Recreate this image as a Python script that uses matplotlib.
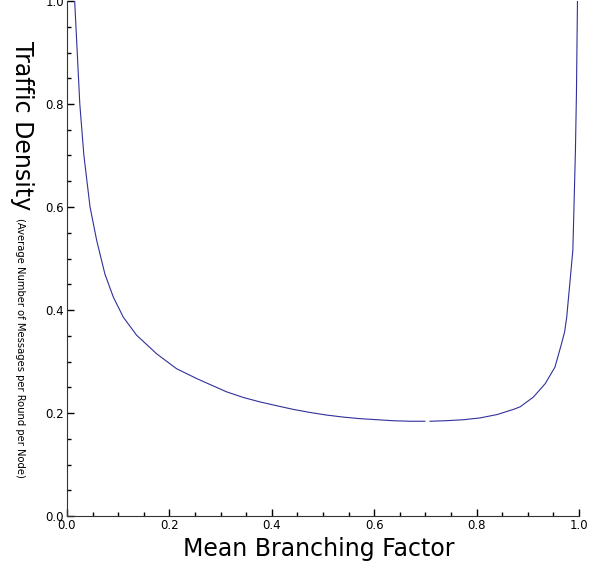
import numpy as np
import matplotlib
matplotlib.use("Agg")
import matplotlib.pyplot as plt

# values
left_x = [0.015, 0.020, 0.025, 0.033, 0.045, 0.058, 0.074, 0.0905, 0.110, 0.136,
          0.175, 0.214, 0.253, 0.280, 0.312, 0.345, 0.377, 0.410, 0.442, 0.475,
          0.507, 0.540, 0.572, 0.605, 0.637, 0.670, 0.699]
left_y = [1.000, 0.900, 0.800, 0.700, 0.600, 0.535, 0.470, 0.425, 0.386, 0.351,
          0.315, 0.286, 0.267, 0.255, 0.241, 0.230, 0.2215, 0.214, 0.207, 0.201,
          0.196, 0.192, 0.189, 0.187, 0.185, 0.184, 0.184]
right_x = [0.709, 0.740, 0.775, 0.807, 0.840, 0.872, 0.885, 0.911, 0.934, 0.953,
           0.966, 0.972, 0.976, 0.982, 0.988, 0.9905, 0.993, 0.995, 0.997]
right_y = [0.184, 0.185, 0.187, 0.1905, 0.197, 0.207, 0.212, 0.231, 0.257, 0.289,
           0.335, 0.358, 0.386, 0.451, 0.516, 0.612, 0.709, 0.820, 1.000]

xticks = [0.0, 0.2, 0.4, 0.6, 0.8, 1.0]
yticks = [0.0, 0.2, 0.4, 0.6, 0.8, 1.0]

fig = plt.figure(figsize=(6.03, 5.68), dpi=100)
ax = fig.add_axes([67 / 603, 52 / 568, 512 / 603, 515 / 568])

line_color = '#30309a'
ax.plot(left_x, left_y, color=line_color, lw=0.8)
ax.plot(right_x, right_y, color=line_color, lw=0.8)

ax.set_xlim(0, 1)
ax.set_ylim(0, 1)
ax.set_xticks(xticks)
ax.set_yticks(yticks)
ax.set_xticks(np.arange(0, 1.0001, 0.05), minor=True)
ax.set_yticks(np.arange(0, 1.0001, 0.05), minor=True)
ax.tick_params(which='major', direction='in', length=5, width=1, labelsize=8.5, pad=2)
ax.tick_params(which='minor', direction='in', length=3, width=1)
for side in ['top', 'right']:
    ax.spines[side].set_visible(False)
for side in ['left', 'bottom']:
    ax.spines[side].set_color('#333333')

fig.text(319 / 603, 1 - 549 / 568, 'Mean Branching Factor', fontsize=17,
         ha='center', va='center')
fig.text(22 / 603, 1 - 126 / 568, 'Traffic Density', fontsize=17,
         rotation=-90, ha='center', va='center')
fig.text(20 / 603, 1 - 348 / 568, '(Average Number of Messages per Round per Node)',
         fontsize=7.2, rotation=-90, ha='center', va='center')

fig.savefig('out.png', dpi=100)
